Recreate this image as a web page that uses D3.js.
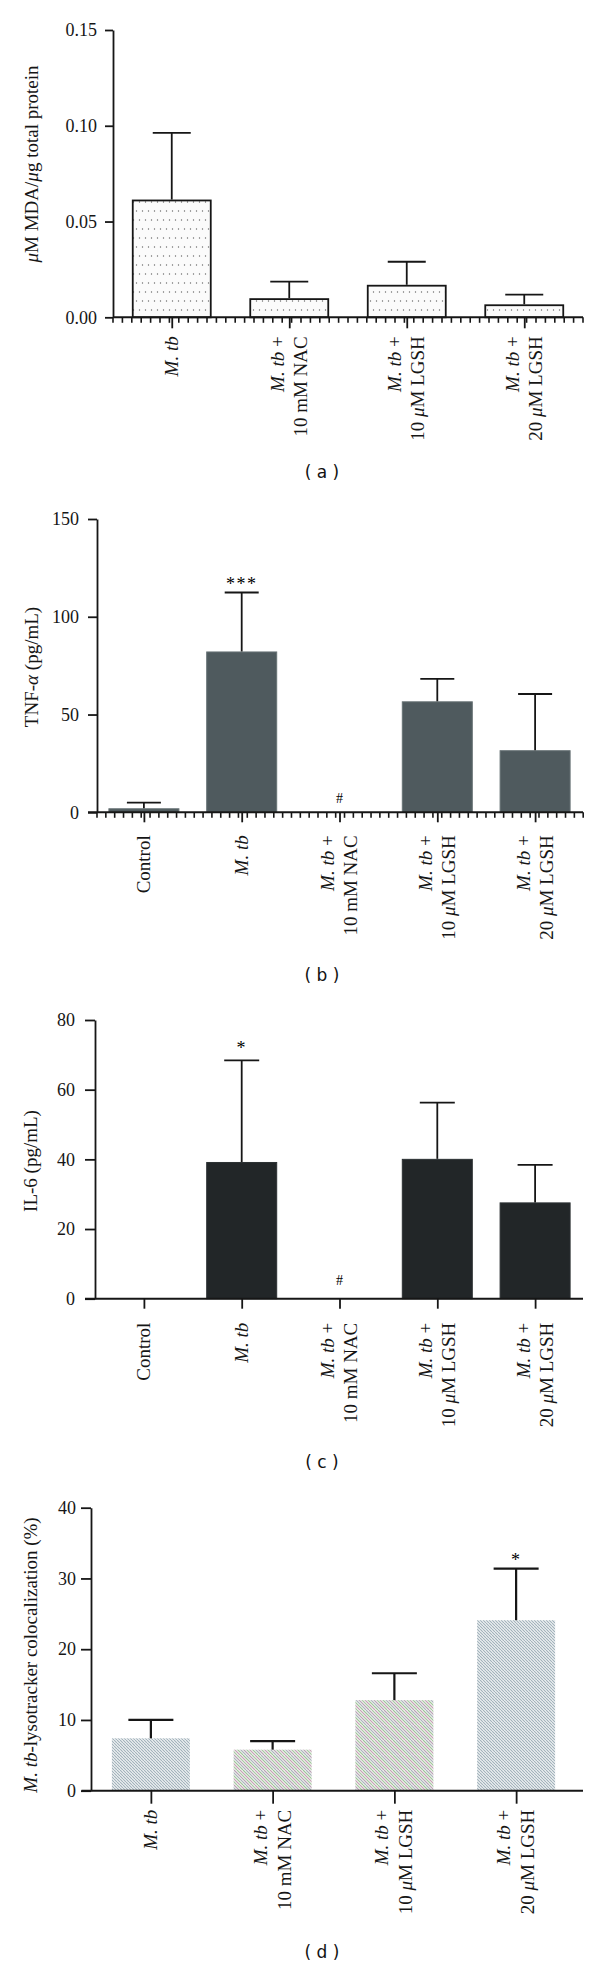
<!DOCTYPE html>
<html><head><meta charset="utf-8">
<script src="https://cdn.jsdelivr.net/npm/d3@7"></script>
<style>body{margin:0;background:#fff} svg{display:block}</style>
</head><body><svg id="c" width="600" height="1968"></svg>
<script>
// ---------------- DATA ----------------
const catsA = ["*M. tb*", "*M. tb* +|10 mM NAC", "*M. tb* +|10 *μ*M LGSH", "*M. tb* +|20 *μ*M LGSH"];
const mdaMean = [0.061, 0.0095, 0.0165, 0.0063];
const mdaErr = [0.0353, 0.0091, 0.0125, 0.0055];
const mdaTicks = [0, 0.05, 0.10, 0.15];
const mdaMarks = ["", "", "", ""];

const catsB = ["Control", "*M. tb*", "*M. tb* +|10 mM NAC", "*M. tb* +|10 *μ*M LGSH", "*M. tb* +|20 *μ*M LGSH"];
const tnfMean = [1.8, 82, 0, 56.5, 31.5];
const tnfErr = [3.1, 30.4, 0, 11.7, 29.0];
const tnfMarks = ["", "***", "#", "", ""];
const tnfTicks = [0, 50, 100, 150];

const il6Mean = [0, 39.1, 0, 40, 27.5];
const il6Err = [0, 29.3, 0, 16.3, 10.9];
const il6Marks = ["", "*", "#", "", ""];
const il6Ticks = [0, 20, 40, 60, 80];

const catsD = ["*M. tb*", "*M. tb* +|10 mM NAC", "*M. tb* +|10 *μ*M LGSH", "*M. tb* +|20 *μ*M LGSH"];
const colocMean = [7.4, 5.8, 12.8, 24.1];
const colocErr = [2.6, 1.2, 3.8, 7.3];
const colocMarks = ["", "", "", "*"];
const colocTicks = [0, 10, 20, 30, 40];

const panelTitles = ["( a )", "( b )", "( c )", "( d )"];
const yTitles = ["*μ*M MDA/*μ*g total protein", "TNF-*α* (pg/mL)", "IL-6 (pg/mL)", "*M. tb*-lysotracker colocalization (%)"];

// ---------------- DRAW ----------------
const svg = d3.select("#c");
const defs = svg.append("defs");
const SERIF = "'Liberation Serif','Times New Roman',serif";
const INK = "#161616";

// dotted fill (panel a)
const pd = defs.append("pattern").attr("id", "dots").attr("patternUnits", "userSpaceOnUse")
  .attr("width", 6).attr("height", 18);
pd.append("rect").attr("width", 6).attr("height", 18).attr("fill", "#fbfbfb");
pd.append("circle").attr("cx", 1.5).attr("cy", 4).attr("r", 0.7).attr("fill", "#6a6a6a");
pd.append("circle").attr("cx", 4.5).attr("cy", 13).attr("r", 0.7).attr("fill", "#6a6a6a");

// hatch fills (panel d)
function hatch(id, colors, bg) {
  const n = colors.length, s = 3 * n;
  const p = defs.append("pattern").attr("id", id).attr("patternUnits", "userSpaceOnUse")
    .attr("width", s).attr("height", s);
  p.append("rect").attr("width", s).attr("height", s).attr("fill", bg);
  colors.forEach((c, k) => {
    const o = k * 3;
    p.append("path")
      .attr("d", `M${o - s},0 L${o},${s} M${o},0 L${o + s},${s} M${o + s},0 L${o + 2 * s},${s}`)
      .attr("stroke", c).attr("stroke-width", 1.1).attr("fill", "none");
  });
}
hatch("hBlue", ["#9fb0b9"], "#f3f5f6");
hatch("hMix", ["#c39fb2", "#9cc498", "#a9b3bb", "#b7a0b4", "#a6c7a2"], "#f4f5f2");

function rich(sel, str) {
  str.split("*").forEach((seg, i) => {
    if (!seg) return;
    sel.append("tspan").attr("font-style", i % 2 ? "italic" : "normal").text(seg);
  });
}

function panel(cfg) {
  const g = svg.append("g");
  const y = d3.scaleLinear().domain([0, cfg.max]).range([cfg.yBot, cfg.yTop]);
  const x = d3.scalePoint().domain(d3.range(cfg.cats.length)).range(cfg.catRange).padding(0.5);
  const idx = d3.range(cfg.cats.length);

  // bars
  g.selectAll("rect.bar").data(idx.filter(i => cfg.mean[i] > 0)).join("rect")
    .attr("x", i => x(i) - cfg.barW / 2).attr("width", cfg.barW)
    .attr("y", i => y(cfg.mean[i])).attr("height", i => y(0) - y(cfg.mean[i]))
    .attr("fill", i => cfg.fill[i]).attr("stroke", cfg.stroke).attr("stroke-width", cfg.barSW);

  // error bars
  const eb = idx.filter(i => cfg.mean[i] > 0 && cfg.err[i] > 0);
  g.selectAll("line.ev").data(eb).join("line")
    .attr("x1", i => x(i)).attr("x2", i => x(i))
    .attr("y1", i => y(cfg.mean[i]) - cfg.barSW / 2).attr("y2", i => y(cfg.mean[i] + cfg.err[i]))
    .attr("stroke", INK).attr("stroke-width", cfg.errSW);
  g.selectAll("line.ec").data(eb).join("line")
    .attr("x1", i => x(i) - cfg.capW / 2).attr("x2", i => x(i) + cfg.capW / 2)
    .attr("y1", i => y(cfg.mean[i] + cfg.err[i])).attr("y2", i => y(cfg.mean[i] + cfg.err[i]))
    .attr("stroke", INK).attr("stroke-width", cfg.errSW);

  // significance marks
  idx.forEach(i => {
    const m = cfg.marks[i];
    if (!m) return;
    if (m === "#") {
      g.append("text").attr("x", x(i)).attr("y", y(0) - cfg.hashGap)
        .attr("text-anchor", "middle").attr("font-family", SERIF).attr("font-size", 14)
        .attr("fill", "#000").text(m);
    } else {
      g.append("text").attr("x", x(i)).attr("y", y(cfg.mean[i] + cfg.err[i]) - cfg.starGap)
        .attr("text-anchor", "middle").attr("font-family", SERIF).attr("font-size", 18)
        .attr("letter-spacing", 1.5).attr("fill", "#000").text(m);
    }
  });

  // y axis
  const ya = g.append("g").attr("transform", `translate(${cfg.axisX},0)`)
    .call(d3.axisLeft(y).tickValues(cfg.ticks).tickFormat(cfg.fmt)
      .tickSize(cfg.tickSize).tickPadding(cfg.tickPad).tickSizeOuter(0));
  ya.selectAll("path,line").attr("stroke", INK).attr("stroke-width", 1.8);
  ya.selectAll("text").attr("font-family", SERIF).attr("font-size", 18).attr("fill", INK);

  // x axis line
  g.append("line").attr("x1", cfg.xStart).attr("x2", cfg.xEnd)
    .attr("y1", y(0)).attr("y2", y(0)).attr("stroke", INK).attr("stroke-width", 2);
  // minor ticks
  if (cfg.minor) {
    g.selectAll("line.mn").data(d3.range(cfg.axisX, cfg.xEnd + 0.5, cfg.minor)).join("line")
      .attr("x1", d => d).attr("x2", d => d).attr("y1", y(0)).attr("y2", y(0) + 5.5)
      .attr("stroke", INK).attr("stroke-width", 1.6);
  }
  // major ticks
  const xa = g.append("g").attr("transform", `translate(0,${y(0)})`)
    .call(d3.axisBottom(x).tickSize(cfg.majorLen).tickFormat("").tickSizeOuter(0));
  xa.select(".domain").remove();
  xa.selectAll("line").attr("stroke", INK).attr("stroke-width", 1.8);

  // category labels (rotated)
  idx.forEach(i => {
    const lines = cfg.cats[i].split("|");
    const n = lines.length;
    lines.forEach((ln, k) => {
      const off = (k - (n - 1) / 2) * cfg.lineGap + 6;
      const t = g.append("text")
        .attr("transform", `translate(${x(i) + off},${y(0) + cfg.labelOff}) rotate(-90)`)
        .attr("text-anchor", "end").attr("font-family", SERIF).attr("font-size", 19).attr("fill", INK);
      rich(t, ln);
    });
  });

  // y title
  const yt = g.append("text")
    .attr("transform", `translate(${cfg.titleX},${cfg.titleY}) rotate(-90)`)
    .attr("text-anchor", "middle").attr("font-family", SERIF).attr("font-size", 19).attr("fill", INK);
  rich(yt, cfg.yTitle);

  // panel letter
  svg.append("text").attr("x", 322).attr("y", cfg.letterY).attr("text-anchor", "middle")
    .attr("dominant-baseline", "central")
    .attr("font-family", "'DejaVu Sans',sans-serif").attr("font-size", 17).attr("fill", "#111")
    .text(cfg.letter);
}

panel({
  cats: catsA, mean: mdaMean, err: mdaErr, marks: mdaMarks, ticks: mdaTicks, fmt: d3.format(".2f"),
  max: 0.15, yTop: 30, yBot: 317.3, axisX: 113, xStart: 113, xEnd: 583, catRange: [113, 583],
  barW: 78, capW: 38, fill: catsA.map(() => "url(#dots)"), stroke: INK, barSW: 1.8, errSW: 1.8,
  minor: 9.4, majorLen: 11, tickSize: 8, tickPad: 8, lineGap: 23, labelOff: 19,
  titleX: 38, titleY: 164, yTitle: yTitles[0], letter: panelTitles[0], letterY: 472,
  starGap: 10, hashGap: 10
});

panel({
  cats: catsB, mean: tnfMean, err: tnfErr, marks: tnfMarks, ticks: tnfTicks, fmt: d3.format("d"),
  max: 150, yTop: 519, yBot: 812.3, axisX: 97, xStart: 88, xEnd: 583, catRange: [95, 584],
  barW: 70, capW: 34, fill: catsB.map(() => "#4f5a5e"), stroke: "#677275", barSW: 1, errSW: 1.8,
  minor: 8.84, majorLen: 10, tickSize: 9, tickPad: 9, lineGap: 23, labelOff: 23,
  titleX: 38, titleY: 667, yTitle: yTitles[1], letter: panelTitles[1], letterY: 975,
  starGap: 3, hashGap: 9
});

panel({
  cats: catsB, mean: il6Mean, err: il6Err, marks: il6Marks, ticks: il6Ticks, fmt: d3.format("d"),
  max: 80, yTop: 1020, yBot: 1298.7, axisX: 95, xStart: 85, xEnd: 583, catRange: [95, 584],
  barW: 70, capW: 35, fill: catsB.map(() => "#222628"), stroke: "#2c3133", barSW: 1, errSW: 1.8,
  minor: 0, majorLen: 10, tickSize: 10, tickPad: 10, lineGap: 23, labelOff: 24,
  titleX: 37, titleY: 1161, yTitle: yTitles[2], letter: panelTitles[2], letterY: 1462,
  starGap: 6, hashGap: 14
});

panel({
  cats: catsD, mean: colocMean, err: colocErr, marks: colocMarks, ticks: colocTicks, fmt: d3.format("d"),
  max: 40, yTop: 1507.7, yBot: 1790.7, axisX: 91, xStart: 81.5, xEnd: 583, catRange: [90, 577],
  barW: 78, capW: 45, fill: ["url(#hBlue)", "url(#hMix)", "url(#hMix)", "url(#hBlue)"], stroke: "none", barSW: 0, errSW: 2.2,
  minor: 0, majorLen: 13, tickSize: 10, tickPad: 5, lineGap: 24, labelOff: 19,
  titleX: 37, titleY: 1655, yTitle: yTitles[3], letter: panelTitles[3], letterY: 1952,
  starGap: 3, hashGap: 14
});
</script></body></html>
